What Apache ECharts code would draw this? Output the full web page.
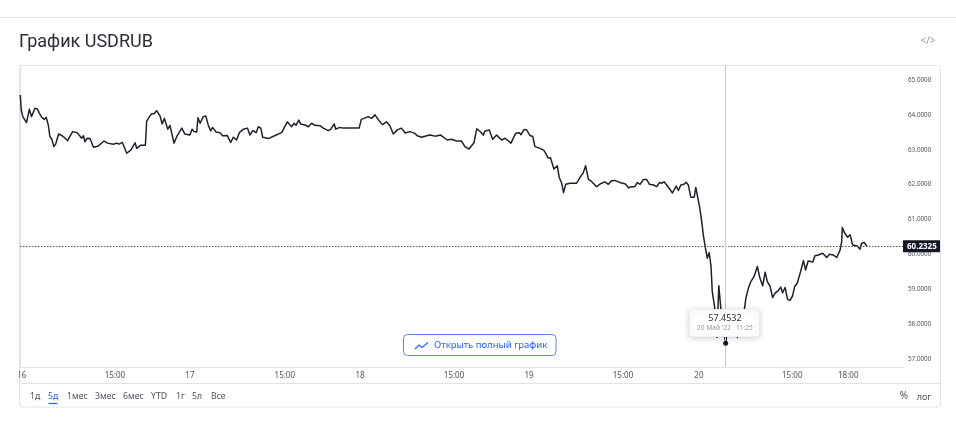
<!DOCTYPE html>
<html><head><meta charset="utf-8">
<style>html,body{margin:0;padding:0;background:#fff}#c{width:956px;height:432px}</style>
<script src="https://cdn.jsdelivr.net/npm/echarts@6/dist/echarts.min.js"></script>
</head><body><div id="c"></div>
<script>
const chartTitle = 'График USDRUB';
// trading minutes since the open on 16 May
const minutes = [
1,4,9,15,21,30,37,48,56,62,
70,78,84,91,96,102,105,109,115,120,
124,134,145,153,169,184,198,204,209,216,
225,236,252,257,270,281,287,300,311,318,
329,343,356,370,375,388,394,403,407,416,
423,431,439,450,457,464,475,482,495,504,
520,530,546,553,559,568,572,579,589,597,
605,613,619,630,643,651,666,677,686,696,
705,718,731,739,748,759,766,774,780,798,
820,841,859,873,881,887,896,902,916,927,
937,948,964,975,991,999,1010,1015,1028,1039,
1060,1090,1097,1106,1119,1130,1141,1151,1165,1178,
1189,1200,1213,1226,1238,1253,1269,1277,1291,1307,
1318,1334,1352,1373,1387,1403,1419,1430,1443,1459,
1468,1478,1489,1494,1508,1519,1532,1548,1559,1578,
1593,1605,1610,1620,1628,1639,1648,1655,1671,1684,
1698,1705,1716,1727,1733,1741,1747,1754,1768,1789,
1800,1810,1815,1818,1827,1837,1853,1869,1880,1891,
1901,1912,1918,1928,1946,1955,1966,1976,1984,1993,
2004,2014,2023,2036,2047,2055,2063,2070,2081,2097,
2109,2116,2124,2134,2141,2148,2156,2167,2172,2177,
2184,2189,2197,2203,2209,2215,2218,2221,2225,2231,
2234,2240,2246,2253,2268,2278,2290,2306,2328,2333,
2341,2349,2359,2370,2378,2387,2395,2402,2411,2419,
2427,2437,2445,2451,2459,2467,2475,2483,2490,2498,
2509,2518,2525,2533,2548,2555,2566,2580,2593,2601,
2614,2625,2636,2641,2643,2650,2655,2660,2668,2676,
2691,2700,2705,2713,2722];
const usdrub = [
64.57,64.14,63.95,63.90,63.78,64.16,63.95,64.19,64.17,64.05,
63.93,63.87,63.93,63.71,63.38,63.31,63.36,63.09,63.17,63.15,
63.45,63.41,63.33,63.26,63.52,63.49,63.33,63.40,63.23,63.33,
63.32,63.07,63.11,63.12,63.25,63.19,63.23,63.16,63.19,63.16,
63.21,62.90,62.99,63.20,63.04,63.13,63.09,63.13,63.81,63.95,
64.03,64.03,64.12,63.97,63.74,63.90,63.59,63.70,63.19,63.38,
63.62,63.45,63.42,63.59,63.52,63.51,63.92,63.76,63.95,63.97,
63.71,63.54,63.64,63.51,63.49,63.40,63.41,63.21,63.36,63.28,
63.49,63.59,63.62,63.42,63.55,63.49,63.66,63.62,63.36,63.32,
63.41,63.49,63.80,63.66,63.76,63.70,63.85,63.74,63.71,63.66,
63.76,63.70,63.69,63.62,63.55,63.59,63.74,63.59,63.64,63.62,
63.62,63.62,63.87,63.90,63.95,63.90,64.00,63.87,63.72,63.80,
63.68,63.45,63.57,63.62,63.48,63.52,63.47,63.40,63.36,63.40,
63.42,63.39,63.42,63.28,63.30,63.25,63.25,63.09,63.02,63.20,
63.60,63.53,63.42,63.53,63.57,63.30,63.42,63.28,63.33,63.19,
63.47,63.49,63.43,63.58,63.57,63.41,63.38,63.09,63.04,62.98,
62.76,62.77,62.45,62.54,62.21,62.04,61.77,62.01,62.04,62.04,
62.21,62.33,62.31,62.54,62.15,62.09,61.94,62.04,62.08,62.01,
62.11,62.12,62.07,62.06,62.02,61.91,61.94,61.94,62.06,62.01,
62.15,62.15,62.01,61.99,61.94,62.06,62.04,62.08,61.96,61.76,
61.96,61.83,61.99,62.01,62.07,61.99,61.64,61.64,61.92,61.94,
61.37,61.08,60.51,60.18,59.89,60.05,59.86,59.65,58.93,58.90,
58.41,57.62,59.10,58.41,57.4532,58.10,58.00,57.62,58.41,58.74,
59.03,59.22,59.36,59.65,59.32,59.10,59.49,59.22,59.08,58.76,
58.89,58.96,59.06,58.90,59.05,58.71,58.68,58.81,59.08,59.17,
59.51,59.82,59.55,59.81,59.78,59.96,59.98,60.03,59.91,60.00,
59.98,59.91,60.13,60.37,60.77,60.62,60.67,60.49,60.56,60.27,
60.24,60.15,60.32,60.34,60.2325];
const xTickMinutes = [6,305,546,851,1093,1395,1636,1938,2182,2482,2662];
const xTickLabels = ['16','15:00','17','15:00','18','15:00','19','15:00','20','15:00','18:00'];
const yTicks = [57,58,59,60,61,62,63,64,65];
const lastPrice = 60.2325;
const crossMinute = 2268, crossPrice = 57.4532;
const tipPrice = '57.4532', tipDate = "20 Май '22", tipTime = '11:25';
const ranges = ['1д','5д','1мес','3мес','6мес','YTD','1г','5л','Все'];
const rangeX = [30,48,67,95,123,151,176,192,211];
const buttonLabel = 'Открыть полный график';

const FONT = '"Noto Sans", Roboto, sans-serif';
const BORDER = '#e0e3eb';
const chart = echarts.init(document.getElementById('c'), null, {renderer:'canvas'});

const rangeTexts = ranges.map((t,i)=>({
  type:'text', x:rangeX[i], y:397, z:50,
  style:{text:t, font:'8.7px '+FONT, fill:t==='5д'?'#2962ff':'#50535e', textVerticalAlign:'middle'}
}));

chart.setOption({
  animation:false,
  backgroundColor:'#fff',
  title:{text:chartTitle, left:19, top:33, padding:0,
    textStyle:{fontFamily:'Roboto, sans-serif', fontSize:18, fontWeight:'normal', color:'#2a2e39'}},
  grid:{left:20, right:53, top:65, bottom:65},
  xAxis:{type:'value', min:0, max:2838, splitLine:{show:false},
    axisLine:{show:true, lineStyle:{color:BORDER}}, axisTick:{show:false},
    axisLabel:{customValues:xTickMinutes, margin:5, color:'#50535e', fontSize:8, fontFamily:FONT,
      formatter:v=>xTickLabels[xTickMinutes.indexOf(v)]}},
  yAxis:{type:'value', position:'right', min:56.77, max:65.43, scale:true, splitLine:{show:false},
    axisLine:{show:true, lineStyle:{color:BORDER}}, axisTick:{show:false},
    axisLabel:{customValues:yTicks, margin:5, color:'#50535e', fontSize:6.3, fontFamily:FONT,
      formatter:v=>v.toFixed(4)}},
  series:[{
    type:'line', showSymbol:false, silent:true, clip:true,
    data:minutes.map((m,i)=>[m,usdrub[i]]),
    lineStyle:{color:'#1f222d', width:1.5, join:'round'},
    markLine:{silent:true, symbol:'none', animation:false,
      data:[
        {yAxis:lastPrice, lineStyle:{color:'#50535e', type:[1.5,1.5], width:1},
         label:{show:true, position:'end', distance:0, formatter:()=>lastPrice.toFixed(4),
           backgroundColor:'#131722', color:'#fff', fontSize:8, fontWeight:'bold', fontFamily:FONT,
           padding:[2,3,2,4], width:30, height:8, lineHeight:8}},
        {xAxis:crossMinute, lineStyle:{color:'#c8cad2', type:'solid', width:1}, label:{show:false}}
      ]},
    markPoint:{silent:true, symbol:'circle', symbolSize:5, animation:false,
      itemStyle:{color:'#131722'}, label:{show:false},
      data:[{coord:[crossMinute,crossPrice]}]}
  }],
  graphic:[
    {type:'rect', z:-1, shape:{x:19.5,y:65.5,width:921,height:341.5,r:3}, style:{fill:'none',stroke:BORDER,lineWidth:1}},
    {type:'line', z:-1, shape:{x1:0,y1:17.5,x2:956,y2:17.5}, style:{stroke:'#e8e9ee',lineWidth:1}},
    {type:'line', z:-1, shape:{x1:20,y1:383.5,x2:940,y2:383.5}, style:{stroke:BORDER,lineWidth:1}},
    // clip the first axis label at the card edge
    {type:'rect', z:60, shape:{x:0,y:368,width:19,height:14}, style:{fill:'#fff'}},
    // embed icon
    {type:'text', x:928, y:41.5, z:50, style:{text:'</>', font:'10px '+FONT, fill:'#9598a1', textAlign:'center', textVerticalAlign:'middle'}},
    ...rangeTexts,
    {type:'line', z:50, shape:{x1:48.5,y1:403.5,x2:57.5,y2:403.5}, style:{stroke:'#2962ff',lineWidth:1.2}},
    {type:'text', x:904, y:396, z:50, style:{text:'%', font:'10px '+FONT, fill:'#50535e', textAlign:'center', textVerticalAlign:'middle'}},
    {type:'text', x:924, y:397, z:50, style:{text:'лог', font:'9px '+FONT, fill:'#50535e', textAlign:'center', textVerticalAlign:'middle'}},
    // open-full-chart button
    {type:'rect', z:50, shape:{x:403.5,y:334.5,width:152.5,height:21,r:4}, style:{fill:'#fff',stroke:'#5b86f5',lineWidth:1}},
    {type:'polyline', z:51, shape:{points:[[415,349],[419,345],[422,347.5],[428,342.5]]}, style:{fill:'none',stroke:'#2962ff',lineWidth:1.2}},
    {type:'text', x:434, y:345, z:51, style:{text:buttonLabel, font:'9.5px '+FONT, fill:'#2962ff', textVerticalAlign:'middle'}},
    // hover tooltip
    {type:'rect', z:70, shape:{x:689.5,y:309.5,width:69.5,height:27,r:2},
      style:{fill:'#fff',stroke:'#eef0f3',lineWidth:1,shadowBlur:6,shadowColor:'rgba(0,0,0,0.18)',shadowOffsetY:1}},
    {type:'text', x:725, y:318.5, z:71, style:{text:tipPrice, font:'9px '+FONT, fill:'#2a2e39', textAlign:'center', textVerticalAlign:'middle'}},
    {type:'text', x:697, y:328, z:71, style:{text:tipDate, font:'6.6px '+FONT, fill:'#9598a1', textVerticalAlign:'middle'}},
    {type:'text', x:736, y:328, z:71, style:{text:tipTime, font:'6.6px '+FONT, fill:'#9598a1', textVerticalAlign:'middle'}}
  ]
});
</script></body></html>
